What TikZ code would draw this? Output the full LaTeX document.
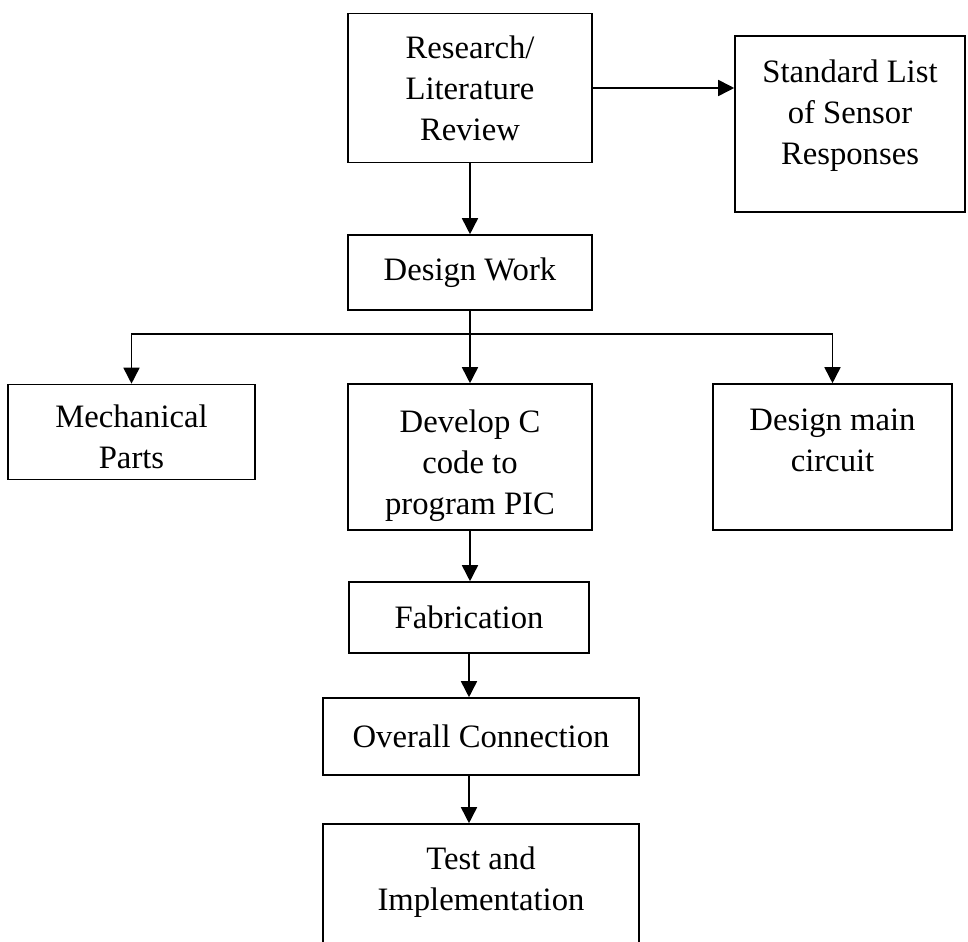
\documentclass[tikz,border=0pt]{standalone}
\usepackage{fontspec}
\setmainfont{Liberation Serif}
\usetikzlibrary{arrows.meta}

\begin{document}
\begin{tikzpicture}[x=0.02cm, y=-0.02cm,
    box/.style={draw, line width=0.9pt, rectangle, align=center, inner sep=0pt,
        font=\fontsize{18.6}{23.3}\selectfont},
    lbl/.style={align=center, font=\fontsize{18.6}{23.3}\selectfont},
    arr/.style={line width=0.9pt, -{Triangle[length=3.2mm, width=3.2mm]}}]
    \useasboundingbox (0,0) rectangle (968,942);

    % top row
    \node[box, minimum width=4.88cm, minimum height=2.98cm] (res) at (470,88) {Research/\\Literature\\Review};
    \node[box, minimum width=4.6cm, minimum height=3.52cm,
        label={[lbl, yshift=0.16cm]center:Standard List\\of Sensor\\Responses}] (std) at (850,124) {};
    \node[box, minimum width=4.88cm, minimum height=1.5cm] (des) at (470,272.5) {Design Work};

    % three branches
    \node[box, minimum width=4.94cm, minimum height=1.9cm,
        label={[lbl, yshift=-0.1cm]center:Mechanical\\Parts}] (mech) at (131.5,432) {};
    \node[box, minimum width=4.88cm, minimum height=2.92cm,
        label={[lbl, yshift=-0.18cm]center:Develop C\\code to\\program PIC}] (dev) at (470,457) {};
    \node[box, minimum width=4.78cm, minimum height=2.92cm,
        label={[lbl, yshift=0.34cm]center:Design main\\circuit}] (circ) at (832.5,457) {};

    % lower chain
    \node[box, minimum width=4.8cm, minimum height=1.42cm] (fab) at (469,617.5) {Fabrication};
    \node[box, minimum width=6.32cm, minimum height=1.54cm] (over) at (481,736.5) {Overall Connection};
    \node[box, minimum width=6.32cm, minimum height=2.52cm,
        label={[lbl, yshift=0.1cm]center:Test and\\Implementation}] (test) at (481,887) {};

    % connectors
    \draw[arr] (res.east) -- (res.east -| std.west);
    \draw[arr] (res.south) -- (des.north);
    \coordinate (bus) at (470,334);
    \draw[arr] (des.south) -- (dev.north);
    \draw[arr] (bus) -| (mech.north);
    \draw[arr] (bus) -| (circ.north);
    \draw[arr] (dev.south) -- (dev.south |- fab.north);
    \draw[arr] (fab.south) -- (fab.south |- over.north);
    \draw[arr] (over.south -| fab.south) -- (test.north -| fab.south);
\end{tikzpicture}
\end{document}
